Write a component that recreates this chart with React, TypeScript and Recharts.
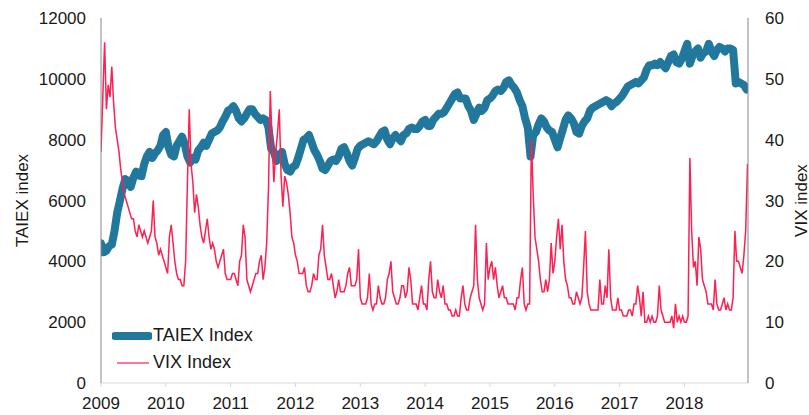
import { LineChart, Line, XAxis, YAxis, Legend } from "recharts";

// x axis: calendar years
const years = [2009, 2010, 2011, 2012, 2013, 2014, 2015, 2016, 2017, 2018];
const taiexTicks = [0, 2000, 4000, 6000, 8000, 10000, 12000];
const vixTicks = [0, 10, 20, 30, 40, 50, 60];

// TAIEX, two readings per month
const taiex = [
  4590, 4300, 4350, 4500, 4550, 5000, 5600, 5990, 6400, 6700, 6650, 6450, 6750, 6950, 6820, 6800, 7200, 7450, 7600, 7400, 7550, 7650, 7800, 8150, // 2009
  8250, 7750, 7500, 7450, 7800, 7950, 8100, 7850, 7450, 7250, 7400, 7350, 7650, 7750, 7900, 7800, 8000, 8200, 8250, 8300, 8400, 8600, 8750, 8950, // 2010
  9000, 9100, 8950, 8700, 8600, 8700, 8850, 9000, 9000, 8850, 8750, 8650, 8700, 8650, 8400, 7700, 7600, 7300, 7400, 7600, 7200, 7000, 6950, 7100, // 2011
  7150, 7400, 7700, 8000, 8050, 8150, 7900, 7650, 7500, 7300, 7050, 7000, 7150, 7300, 7350, 7300, 7450, 7700, 7750, 7550, 7300, 7150, 7400, 7700, // 2012
  7800, 7850, 7900, 7950, 7900, 7850, 7950, 8100, 8250, 8300, 8000, 7850, 8050, 8150, 8050, 7950, 8150, 8200, 8350, 8400, 8350, 8350, 8450, 8600, // 2013
  8650, 8450, 8450, 8650, 8750, 8850, 8850, 8900, 9050, 9200, 9350, 9500, 9550, 9350, 9350, 9350, 9100, 8950, 8650, 8850, 9050, 8950, 9050, 9300, // 2014
  9350, 9450, 9600, 9650, 9600, 9700, 9900, 9950, 9800, 9700, 9550, 9300, 9100, 8700, 8400, 7450, 8150, 8250, 8500, 8700, 8600, 8400, 8300, 8250, // 2015
  8000, 7750, 8050, 8350, 8650, 8800, 8700, 8550, 8250, 8200, 8450, 8600, 8700, 8950, 9050, 9100, 9150, 9200, 9250, 9300, 9250, 9100, 9200, 9250, // 2016
  9350, 9450, 9600, 9750, 9800, 9850, 9900, 9850, 9950, 10050, 10300, 10450, 10450, 10500, 10450, 10550, 10450, 10350, 10550, 10750, 10800, 10550, 10500, 10650, // 2017
  10900, 11150, 10500, 10750, 10900, 11000, 10700, 10850, 10900, 11150, 10900, 10750, 10950, 11050, 11000, 10900, 11000, 11000, 10950, 9850, 9900, 9850, 9800, 9650, // 2018
];

// VIX, three readings per month
const vix = [
  38, 47, 56, 45, 49, 47, 52, 46, 42, 40, 38, 35, 33, 31, 30, 29, 28, 27, 27, 25, 24, 26, 25, 24, 25, 24, 23, 24, 25, 30, 24, 23, 21, 22, 21, 20, // 2009
  19, 18, 24, 26, 23, 20, 18, 17, 17, 16, 16, 20, 33, 45, 36, 33, 28, 31, 29, 26, 24, 23, 25, 27, 24, 22, 23, 22, 20, 19, 20, 21, 22, 18, 17, 17, // 2010
  17, 18, 18, 17, 16, 20, 21, 26, 24, 17, 16, 15, 16, 17, 18, 18, 20, 21, 17, 19, 23, 32, 48, 40, 33, 38, 41, 45, 34, 29, 34, 33, 31, 28, 24, 23, // 2011
  21, 20, 18, 18, 18, 19, 16, 15, 15, 16, 18, 17, 17, 21, 22, 26, 21, 19, 17, 17, 18, 16, 14, 15, 17, 15, 15, 15, 16, 18, 19, 16, 16, 16, 17, 22, // 2012
  14, 13, 13, 13, 14, 18, 13, 12, 13, 13, 16, 14, 13, 13, 14, 17, 18, 20, 15, 14, 13, 13, 14, 16, 16, 14, 15, 19, 17, 13, 13, 13, 12, 14, 16, 13, // 2013
  13, 12, 17, 20, 15, 14, 14, 17, 15, 14, 16, 13, 13, 12, 12, 11, 11, 12, 11, 11, 14, 16, 13, 12, 12, 14, 15, 16, 26, 17, 14, 13, 12, 13, 23, 17, // 2014
  19, 20, 17, 19, 16, 14, 15, 16, 14, 14, 13, 13, 13, 13, 12, 14, 14, 17, 19, 13, 12, 13, 13, 40, 31, 24, 22, 20, 17, 15, 15, 17, 15, 17, 23, 18, // 2015
  20, 24, 27, 22, 26, 20, 17, 16, 14, 14, 13, 13, 15, 14, 13, 14, 19, 25, 15, 13, 12, 12, 12, 12, 12, 17, 13, 13, 16, 14, 22, 14, 12, 12, 12, 14, // 2016
  12, 12, 11, 11, 11, 12, 12, 11, 13, 13, 16, 14, 11, 15, 10, 10, 11, 10, 11, 10, 10, 11, 16, 12, 11, 10, 10, 10, 10, 11, 9, 13, 10, 11, 10, 11, // 2017
  10, 10, 11, 37, 25, 19, 20, 16, 24, 22, 17, 16, 15, 13, 13, 13, 12, 17, 13, 12, 12, 13, 14, 12, 13, 12, 12, 14, 25, 20, 20, 19, 18, 21, 25, 36, // 2018
];

const taiexData = taiex.map((v, i) => ({ t: years[0] + i / 24, v }));
const vixData = vix.map((v, i) => ({ t: years[0] + i / 36, v }));

const font = "'Liberation Sans', Arial, sans-serif";
const tickStyle = { fontSize: 17, fill: "#1a1a1a", fontFamily: font };

function AxisTitle({ viewBox, title, dx }: any) {
  const cx = viewBox.x + dx;
  const cy = viewBox.y + viewBox.height / 2;
  return (
    <text
      x={cx}
      y={cy}
      transform={`rotate(-90 ${cx} ${cy})`}
      textAnchor="middle"
      dominantBaseline="central"
      fontSize={17}
      fontFamily={font}
      fill="#1a1a1a"
    >
      {title}
    </text>
  );
}

function LegendBox({ payload }: any) {
  return (
    <div style={{ fontFamily: font, fontSize: 18, color: "#1a1a1a" }}>
      {(payload || []).map((p: any, i: number) => (
        <div key={p.value} style={{ display: "flex", alignItems: "center", height: 27 }}>
          <svg width={40} height={10} style={{ marginRight: 1 }}>
            <line
              x1={i === 0 ? 3 : 5}
              x2={i === 0 ? 37 : 37}
              y1={5}
              y2={5}
              stroke={p.color}
              strokeWidth={i === 0 ? 8 : 1.2}
              strokeLinecap={i === 0 ? "round" : "butt"}
            />
          </svg>
          <span>{p.value}</span>
        </div>
      ))}
    </div>
  );
}

export default function App() {
  return (
    <div style={{ position: "absolute", left: 0, top: 0 }}>
      <LineChart width={809} height={415} margin={{ top: 18, right: 0, bottom: 0, left: 0 }}>
        <XAxis
          type="number"
          dataKey="t"
          domain={[2009, 2018.98]}
          ticks={years}
          allowDataOverflow
          tickFormatter={(v) => String(v)}
          axisLine={{ stroke: "#d9d9d9" }}
          tickLine={{ stroke: "#d9d9d9" }}
          tickSize={4}
          tickMargin={10}
          height={32}
          tick={tickStyle}
        />
        <YAxis
          yAxisId="left"
          domain={[0, 12000]}
          ticks={taiexTicks}
          width={101}
          axisLine={{ stroke: "#868686" }}
          tickLine={false}
          tickSize={0}
          tickMargin={15}
          tick={tickStyle}
          label={<AxisTitle title="TAIEX index" dx={22} />}
        />
        <YAxis
          yAxisId="right"
          orientation="right"
          domain={[0, 60]}
          ticks={vixTicks}
          width={61}
          axisLine={{ stroke: "#868686" }}
          tickLine={false}
          tickSize={0}
          tickMargin={17}
          tick={tickStyle}
          label={<AxisTitle title="VIX index" dx={53} />}
        />
        <Legend
          layout="vertical"
          align="center"
          verticalAlign="middle"
          content={<LegendBox />}
          wrapperStyle={{ left: 112, top: 322, width: 160 }}
        />
        <Line
          yAxisId="left"
          data={taiexData}
          dataKey="v"
          name="TAIEX Index"
          type="linear"
          stroke="#22789c"
          strokeWidth={8}
          strokeLinejoin="round"
          strokeLinecap="round"
          dot={false}
          isAnimationActive={false}
        />
        <Line
          yAxisId="right"
          data={vixData}
          dataKey="v"
          name="VIX Index"
          type="linear"
          stroke="#ff1f50"
          strokeWidth={1.5}
          dot={false}
          isAnimationActive={false}
        />
      </LineChart>
    </div>
  );
}
